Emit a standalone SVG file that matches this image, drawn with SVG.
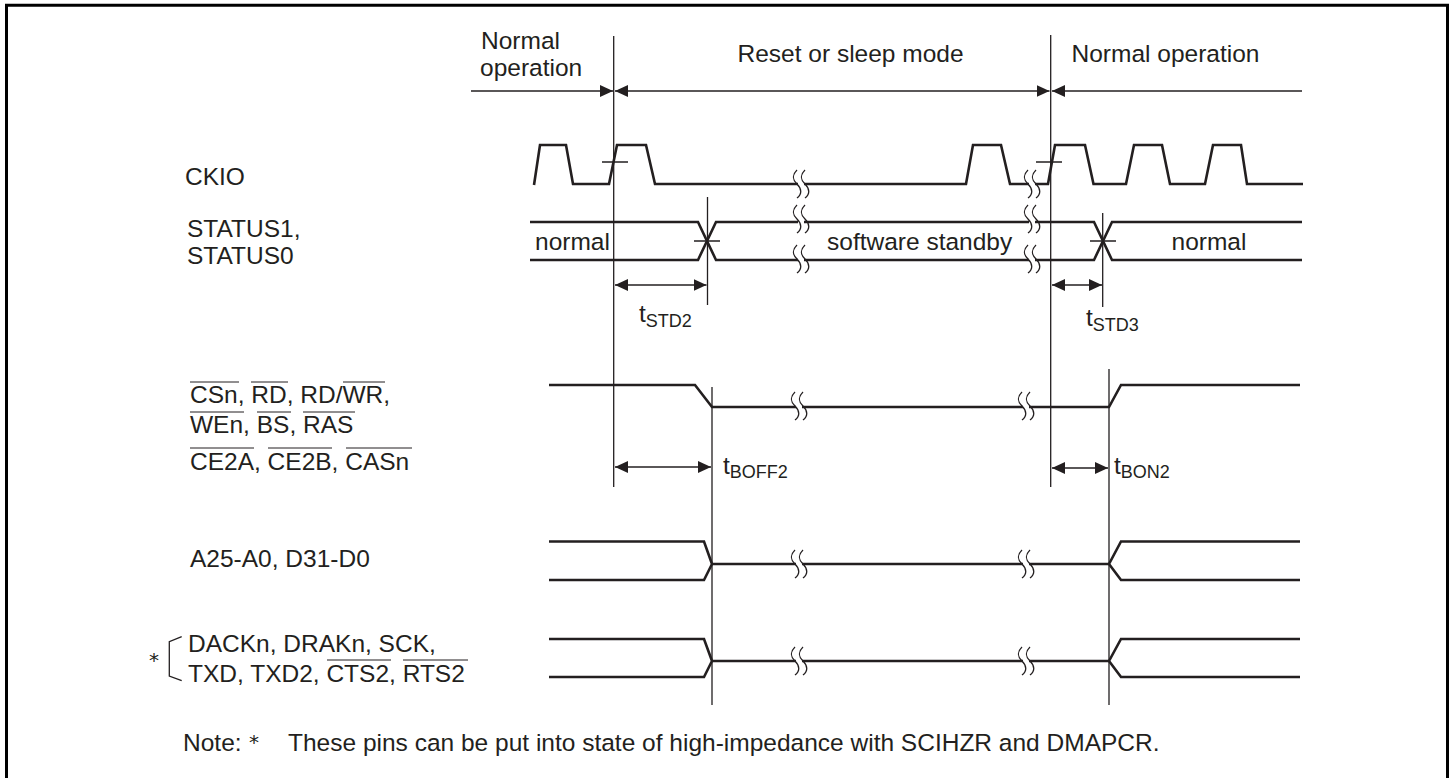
<svg xmlns="http://www.w3.org/2000/svg" width="1452" height="778" viewBox="0 0 1452 778">
<style>
text{font-family:"Liberation Sans",Arial,sans-serif;font-size:24.5px;fill:#231f20}
.sub{font-size:18px}
.star{font-family:"DejaVu Sans",sans-serif;font-size:20px}
.w{fill:none;stroke:#231f20;stroke-width:2.6;stroke-linejoin:miter}
.t{fill:none;stroke:#231f20;stroke-width:1.3}
.o{fill:none;stroke:#231f20;stroke-width:1}
.b{fill:none;stroke:#231f20;stroke-width:1.3}
</style>
<defs>
<marker id="a" markerUnits="userSpaceOnUse" markerWidth="14" markerHeight="12" refX="13" refY="6" orient="auto-start-reverse"><path d="M0 0L13 6L0 12Z" fill="#231f20"/></marker>
<g id="brk"><rect x="-3" y="3" width="6" height="22" fill="#fff"/><path class="b" d="M-4 0C-9 5-9 9-4 14S1 24-4 28M4 0C-1 5-1 9 4 14S9 24 4 28"/></g>
</defs>
<rect width="1452" height="778" fill="#fff"/>
<path d="M6.5 778V5.3H1447.5V778" fill="none" stroke="#000" stroke-width="3"/>
<g id="connectors">
<path class="t" d="M613.7 36V487M1050.7 35V487M707.5 197V305M1102.7 213V307M712 387V705M1109 369V705"/>
<path class="t" d="M602 162H628M1036 162H1062M694 241H720M1090 241H1116"/>
<path class="t" marker-end="url(#a)" d="M471 91H613"/>
<path class="t" marker-start="url(#a)" marker-end="url(#a)" d="M615 91H1049.5"/>
<path class="t" marker-start="url(#a)" d="M1052 91H1302"/>
<path class="t" marker-start="url(#a)" marker-end="url(#a)" d="M615 285H706.5"/>
<path class="t" marker-start="url(#a)" marker-end="url(#a)" d="M1052 285H1102"/>
<path class="t" marker-start="url(#a)" marker-end="url(#a)" d="M615 467H711"/>
<path class="t" marker-start="url(#a)" marker-end="url(#a)" d="M1052 468H1108"/>
</g>
<g id="CKIO">
<path class="w" d="M534 185L540 145H566L573 184H609L617 145H646L655 184H966L973 145H1001L1010 184H1048L1055 145H1085L1093.5 184H1126L1134 145H1162L1170 184H1205L1213 145H1241L1247 184H1303"/>
<use href="#brk" x="801" y="170"/><use href="#brk" x="1032" y="170"/>
<text x="185" y="185">CKIO</text>
</g>
<g id="STATUS">
<path class="w" d="M530 222H698L716 260H1094L1112 222H1302M530 260H698L716 222H1094L1112 260H1302"/>
<use href="#brk" x="801" y="205"/><use href="#brk" x="1032" y="205"/>
<use href="#brk" x="801" y="245"/><use href="#brk" x="1032" y="245"/>
<text x="187" y="237">STATUS1,</text><text x="187" y="264">STATUS0</text>
<text x="535" y="250">normal</text><text x="827" y="250">software standby</text><text x="1171.5" y="250">normal</text>
</g>
<g id="header">
<text x="481" y="49">Normal</text><text x="480" y="76">operation</text>
<text x="737.5" y="62">Reset or sleep mode</text><text x="1071.5" y="62">Normal operation</text>
</g>
<g id="tlabels">
<text x="639" y="322">t<tspan class="sub" dy="5">STD2</tspan></text>
<text x="1086" y="326">t<tspan class="sub" dy="5">STD3</tspan></text>
<text x="723" y="474">t<tspan class="sub" dy="4">BOFF2</tspan></text>
<text x="1114" y="474">t<tspan class="sub" dy="4">BON2</tspan></text>
</g>
<g id="CSn">
<path class="w" d="M549 385H695L712 407H1109L1121 385H1300"/>
<use href="#brk" x="799" y="392"/><use href="#brk" x="1026" y="392"/>
<text x="190" y="403">CSn, RD, RD/WR,</text>
<text x="190" y="433">WEn, BS, RAS</text>
<text x="190" y="470">CE2A, CE2B, CASn</text>
<path class="o" d="M190 382H239M251 382H288M343 382H385M190 412H244M257 412H291M303 412H355M190 448H254M268 448H332M346 448H412"/>
</g>
<g id="A25">
<path class="w" d="M549 541.5H704L712 564L704 580H549M712 564H1109L1121 541.5H1300M1109 564L1121 580H1300"/>
<use href="#brk" x="799" y="550"/><use href="#brk" x="1026" y="550"/>
<text x="190" y="567">A25-A0, D31-D0</text>
</g>
<g id="DACK">
<path class="w" d="M549 639H704L712 661L704 677H549M712 661H1109L1121 639H1300M1109 661L1121 677H1300"/>
<use href="#brk" x="799" y="647"/><use href="#brk" x="1026" y="647"/>
<text x="188" y="652">DACKn, DRAKn, SCK,</text>
<text x="188" y="682">TXD, TXD2, CTS2, RTS2</text>
<text class="star" x="149" y="667">*</text>
<path class="t" d="M181.7 636.7L169.3 641.7V676L181.7 680.7"/>
<path class="o" d="M327 660H391M403 660H468"/>
</g>
<g id="note">
<text x="183" y="751">Note:</text>
<text class="star" x="249" y="749">*</text>
<text x="288" y="751">These pins can be put into state of high-impedance with SCIHZR and DMAPCR.</text>
</g>
</svg>
